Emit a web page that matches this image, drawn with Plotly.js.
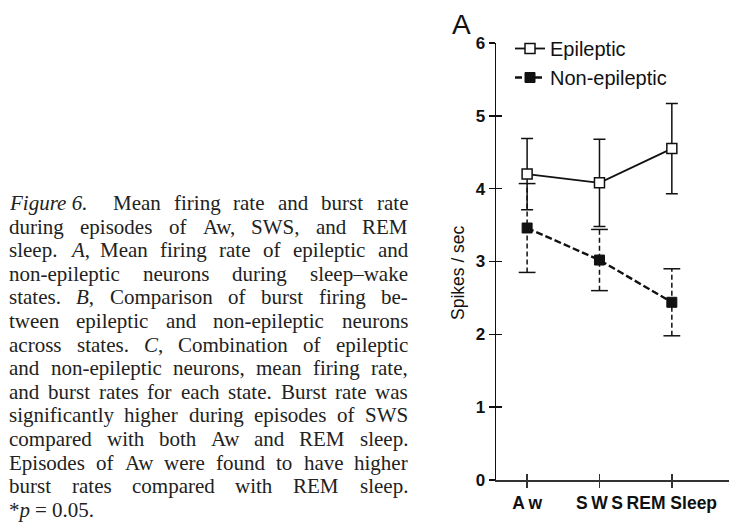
<!DOCTYPE html>
<html>
<head>
<meta charset="utf-8">
<script src="https://cdn.plot.ly/plotly-3.0.1.min.js"></script>
<style>
  html, body { margin: 0; padding: 0; background: #fff; }
  #chart { width: 729px; height: 526px; }
</style>
</head>
<body>
<div id="chart"></div>
<script>
// ---- data ----
const categories = ['Aw', 'SWS', 'REM Sleep'];
const categoryLabels = ['A\u2009w', 'S\u2009W\u2009S', 'REM Sleep'];
const epileptic = [4.20, 4.08, 4.55];
const epilepticErr = [0.49, 0.60, 0.62];
const nonEpileptic = [3.46, 3.02, 2.44];
const nonEpilepticErr = [0.61, 0.42, 0.46];
const yTicks = [0, 1, 2, 3, 4, 5, 6];
const seriesNames = ['Epileptic', 'Non-epileptic'];
const yTitle = 'Spikes / sec';
const panelLabel = 'A';
const captionLines = [
  '<i>Figure\u00a06.</i>  Mean firing rate and burst rate',
  'during episodes of Aw, SWS, and REM',
  'sleep. <i>A</i>, Mean firing rate of epileptic and',
  'non-epileptic neurons during sleep–wake',
  'states. <i>B</i>, Comparison of burst firing be-',
  'tween epileptic and non-epileptic neurons',
  'across states. <i>C</i>, Combination of epileptic',
  'and non-epileptic neurons, mean firing rate,',
  'and burst rates for each state. Burst rate was',
  'significantly higher during episodes of SWS',
  'compared with both Aw and REM sleep.',
  'Episodes of Aw were found to have higher',
  'burst rates compared with REM sleep.',
  '*<i>p</i> = 0.05.'
];

// ---- geometry ----
const W = 729, H = 526;
const M = { l: 496, r: 0, t: 43, b: 46 };
const PW = W - M.l - M.r, PH = H - M.t - M.b;
const xRange = [-0.43, 2.79];
const px2x = p => (p - M.l) / PW;
const px2y = p => (H - M.b - p) / PH;

// ---- non-epileptic error bars (dashed) built from the data ----
const ebX = [], ebY = [], capX = [], capY = [];
categories.forEach((c, i) => {
  ebX.push(c, c, null);
  ebY.push(nonEpileptic[i] - nonEpilepticErr[i], nonEpileptic[i] + nonEpilepticErr[i], null);
  capX.push(c, c);
  capY.push(nonEpileptic[i] - nonEpilepticErr[i], nonEpileptic[i] + nonEpilepticErr[i]);
});

const traces = [
  { x: ebX, y: ebY, mode: 'lines', type: 'scatter', showlegend: false, hoverinfo: 'skip',
    line: { color: '#111', width: 1.5, dash: '5px,3px' } },
  { x: capX, y: capY, mode: 'markers', type: 'scatter', showlegend: false, hoverinfo: 'skip',
    marker: { symbol: 'line-ew', size: 12, line: { color: '#111', width: 1.5 } } },
  { x: categories, y: epileptic, name: seriesNames[0], type: 'scatter', mode: 'lines+markers',
    line: { color: '#111', width: 1.8 },
    marker: { symbol: 'square', size: 10, color: '#fff', line: { color: '#111', width: 1.5 } },
    error_y: { type: 'data', array: epilepticErr, visible: true, color: '#111', thickness: 1.5, width: 6 } },
  { x: categories, y: nonEpileptic, name: seriesNames[1], type: 'scatter', mode: 'lines+markers',
    line: { color: '#111', width: 2.4, dash: '7px,3px' },
    marker: { symbol: 'square', size: 10, color: '#111', line: { color: '#111', width: 1 } } },
  { x: [], y: [], xaxis: 'x2', yaxis: 'y2', type: 'scatter', showlegend: false, hoverinfo: 'skip' }
];

// ---- caption, justified by measuring words ----
const capFont = 21;
const meas = document.createElement('span');
meas.style.cssText = "position:absolute;visibility:hidden;white-space:nowrap;font-family:'Liberation Serif';";
document.body.appendChild(meas);
const measure = (s, fs) => { meas.style.fontSize = fs + 'px'; meas.innerHTML = s; return meas.getBoundingClientRect().width; };
const capLeft = 8, capRight = 407, capTop = 203, capStep = 23.6, minGap = 4;
const annotations = [];
captionLines.forEach((line, i) => {
  const words = line.split(' ');
  let fs = capFont;
  let widths = words.map(w => measure(w, fs));
  let total = widths.reduce((a, b) => a + b, 0);
  const nGaps = words.length - 1;
  if (total + nGaps * minGap > capRight - capLeft) {
    fs = fs * (capRight - capLeft - nGaps * minGap) / total;
    widths = words.map(w => measure(w, fs));
    total = widths.reduce((a, b) => a + b, 0);
  }
  const last = i === captionLines.length - 1;
  const spaceW = measure('a a', fs) - measure('aa', fs);
  const gap = (last || nGaps < 1) ? spaceW : (capRight - capLeft - total) / nGaps;
  let xp = capLeft;
  words.forEach((w, j) => {
    if (w.length) {
      annotations.push({
        text: w, xref: 'paper', yref: 'paper', x: px2x(xp), y: px2y(capTop + i * capStep),
        xanchor: 'left', yanchor: 'middle', showarrow: false, borderpad: 0,
        font: { family: 'Liberation Serif', size: fs, color: '#222' }
      });
    }
    xp += widths[j] + gap;
  });
});
document.body.removeChild(meas);

annotations.push({
  text: panelLabel, xref: 'paper', yref: 'paper', x: px2x(461), y: px2y(25),
  xanchor: 'center', yanchor: 'middle', showarrow: false,
  font: { family: 'Liberation Sans', size: 28, color: '#111' }
});
annotations.push({
  text: yTitle, xref: 'paper', yref: 'paper', x: px2x(458), y: px2y(273),
  xanchor: 'center', yanchor: 'middle', showarrow: false, textangle: -90,
  font: { family: 'Liberation Sans', size: 17.5, color: '#111' }
});

const layout = {
  width: W, height: H, margin: M,
  paper_bgcolor: '#fff', plot_bgcolor: '#fff',
  showlegend: true,
  legend: { x: px2x(510), y: px2y(29), xanchor: 'left', yanchor: 'top',
    bgcolor: 'rgba(0,0,0,0)', font: { family: 'Liberation Sans', size: 20, color: '#111' },
    tracegroupgap: 0, itemwidth: 30 },
  xaxis: { type: 'category', range: xRange, showline: true, linecolor: '#333', linewidth: 1.5,
    tickmode: 'array', tickvals: categories, ticktext: categoryLabels, tickangle: 0,
    ticks: 'outside', ticklen: 6, tickwidth: 1.5, tickcolor: '#333',
    tickfont: { family: 'Liberation Sans', size: 17.5, weight: 'bold', color: '#111' },
    showgrid: false, zeroline: false, fixedrange: true },
  yaxis: { range: [0, 6], tickvals: yTicks, showline: true, linecolor: '#111', linewidth: 1.5,
    ticks: 'outside', ticklen: 6, tickwidth: 1.5, tickcolor: '#111',
    tickfont: { family: 'Liberation Sans', size: 17, weight: 'bold', color: '#111' },
    showgrid: false, zeroline: false, fixedrange: true },
  xaxis2: { overlaying: 'x', anchor: 'y', type: 'linear', range: xRange, tickvals: [0, 1, 2],
    ticks: 'inside', ticklen: 6, tickwidth: 1.5, tickcolor: '#333', showticklabels: false,
    showline: false, showgrid: false, zeroline: false, fixedrange: true },
  yaxis2: { overlaying: 'y', anchor: 'x', range: [0, 6], tickvals: yTicks,
    ticks: 'inside', ticklen: 6, tickwidth: 1.5, tickcolor: '#111', showticklabels: false,
    showline: false, showgrid: false, zeroline: false, fixedrange: true },
  annotations: annotations
};

Plotly.newPlot('chart', traces, layout, { displayModeBar: false, staticPlot: true });
</script>
</body>
</html>
